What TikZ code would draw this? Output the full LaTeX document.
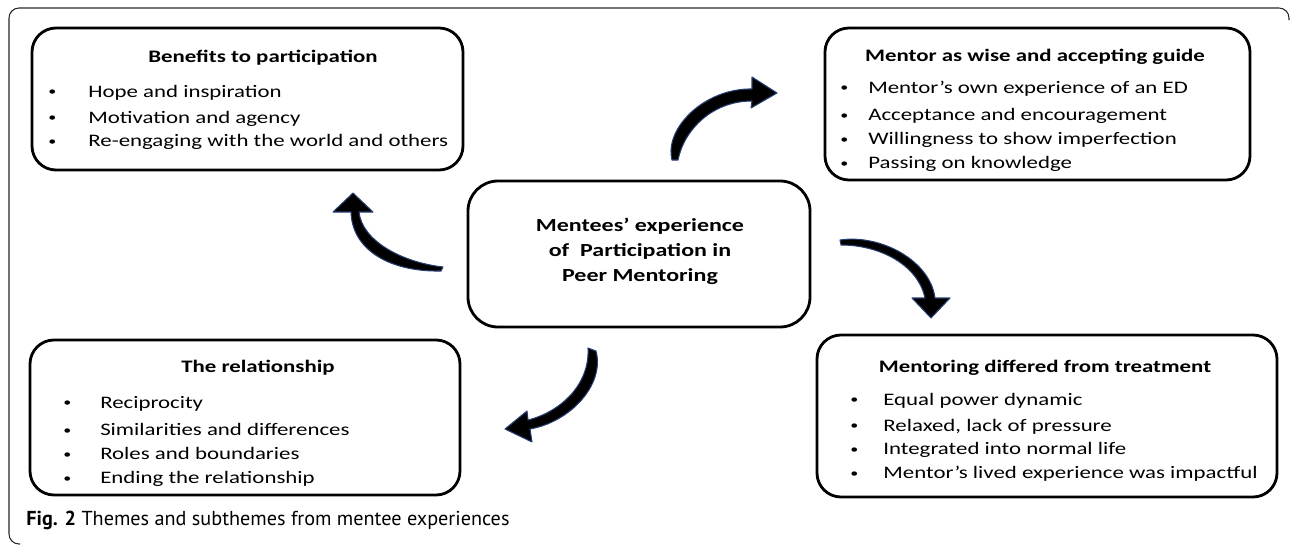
\documentclass[tikz,border=0pt]{standalone}
\usepackage{fontspec}
\setmainfont[FakeStretch=1.3]{Carlito}
\newfontfamily\capfont{PT Sans}
\usetikzlibrary{positioning}
\definecolor{arrowedge}{RGB}{40,62,115}
\newcommand{\themedot}{\raisebox{0.9pt}{\fontsize{7}{7}\selectfont\textbullet}}
\newcommand{\bulletrows}[2]{\begin{tabular}[t]{@{}p{#1}@{}l@{}}#2\end{tabular}}
\tikzset{
    themebox/.style = {rectangle, rounded corners=4.8mm, line width=1.6pt, draw=black, inner sep=0pt},
    hubbox/.style = {rectangle, rounded corners=6mm, line width=1.6pt, draw=black, inner sep=0pt},
    themetitle/.style = {inner sep=0pt, font=\bfseries\fontsize{10}{12}\selectfont},
    hubtitle/.style = {inner sep=0pt, align=center, font=\bfseries\fontsize{10.5}{14.2}\selectfont},
    themelist/.style = {inner sep=0pt, anchor=base west, font=\fontsize{10}{13.6}\selectfont},
    blockarrow/.style = {fill=black, draw=arrowedge, line width=0.6pt, line join=round},
    outerframe/.style = {draw=black!85, line width=0.6pt, rounded corners=2mm}
}

\begin{document}
\begin{tikzpicture}[x=0.2mm,y=-0.2mm]
\useasboundingbox (0,0) rectangle (1290,546);
%
\draw[outerframe] (20,544) -- (9,544) -- (9,8) -- (1289,8) -- (1289,20);
%
\node[themebox, minimum width=86.2mm, minimum height=28.4mm] at (247.5,99) (benefits) {};
\node[themebox, minimum width=85mm, minimum height=30.4mm] at (1037.5,104) (mentor) {};
\node[hubbox, minimum width=68.4mm, minimum height=29.2mm] at (639,254) (hub) {};
\node[themebox, minimum width=86mm, minimum height=31mm] at (245,417.5) (relation) {};
\node[themebox, minimum width=92mm, minimum height=32.4mm] at (1047,416) (differed) {};
%
\node[themetitle] at (263,58) (benefitst) {Benefits to participation};
\node[themetitle] at (1035,57) (mentort) {Mentor as wise and accepting guide};
\node[themetitle] at (258,368) (relationt) {The relationship};
\node[themetitle] at (1045,368) (differedt) {Mentoring differed from treatment};
\node[hubtitle] at (640,251) (hubt) {Mentees’ experience\\of~~Participation in\\Peer Mentoring};
%
\node[themelist] at (48,97) (benefitsl) {\bulletrows{22.8pt}{%
  \themedot & Hope and inspiration\\[1.2pt]
  \themedot & Motivation and agency\\
  \themedot & Re-engaging with the world and others}};
\node[themelist] at (840,93) (mentorl) {\bulletrows{15.9pt}{%
  \themedot & Mentor’s own experience of an ED\\[2.3pt]
  \themedot & Acceptance and encouragement\\
  \themedot & Willingness to show imperfection\\
  \themedot & Passing on knowledge}};
\node[themelist] at (63,408) (relationl) {\bulletrows{21pt}{%
  \themedot & Reciprocity\\[2.3pt]
  \themedot & Similarities and differences\\
  \themedot & Roles and boundaries\\
  \themedot & Ending the relationship}};
\node[themelist] at (850,405) (differedl) {\bulletrows{18.8pt}{%
  \themedot & Equal power dynamic\\[1.2pt]
  \themedot & Relaxed, lack of pressure\\
  \themedot & Integrated into normal life\\
  \themedot & Mentor’s lived experience was impactful}};
%
\fill[blockarrow] (672,160) .. controls (664,128) and (705,88) .. (752,89) -- (752,77) -- (777,93)
  -- (751,108) -- (752,101) .. controls (712,101) and (684,130) .. (678,160) -- cycle;
\fill[blockarrow] (351,212) .. controls (352,250) and (390,272) .. (441,271) -- (443,267)
  .. controls (400,262) and (362,240) .. (359,212) -- (373,212) -- (353,193) -- (333,212) -- cycle;
\fill[blockarrow] (840,240) .. controls (880,234) and (930,260) .. (935,298) -- (950,298) -- (931,318)
  -- (912,298) -- (925,298) .. controls (918,265) and (880,245) .. (841,245) -- cycle;
\fill[blockarrow] (588,348) .. controls (590,385) and (560,412) .. (528,420) -- (527,411) -- (505,429)
  -- (532,442) -- (530,429) .. controls (570,422) and (605,385) .. (596,351) -- cycle;
%
\node[inner sep=0pt, anchor=base west, font=\capfont\fontsize{11.5}{13}\selectfont] at (26,525) (caption)
  {\textbf{Fig. 2} Themes and subthemes from mentee experiences};
\end{tikzpicture}
\end{document}
